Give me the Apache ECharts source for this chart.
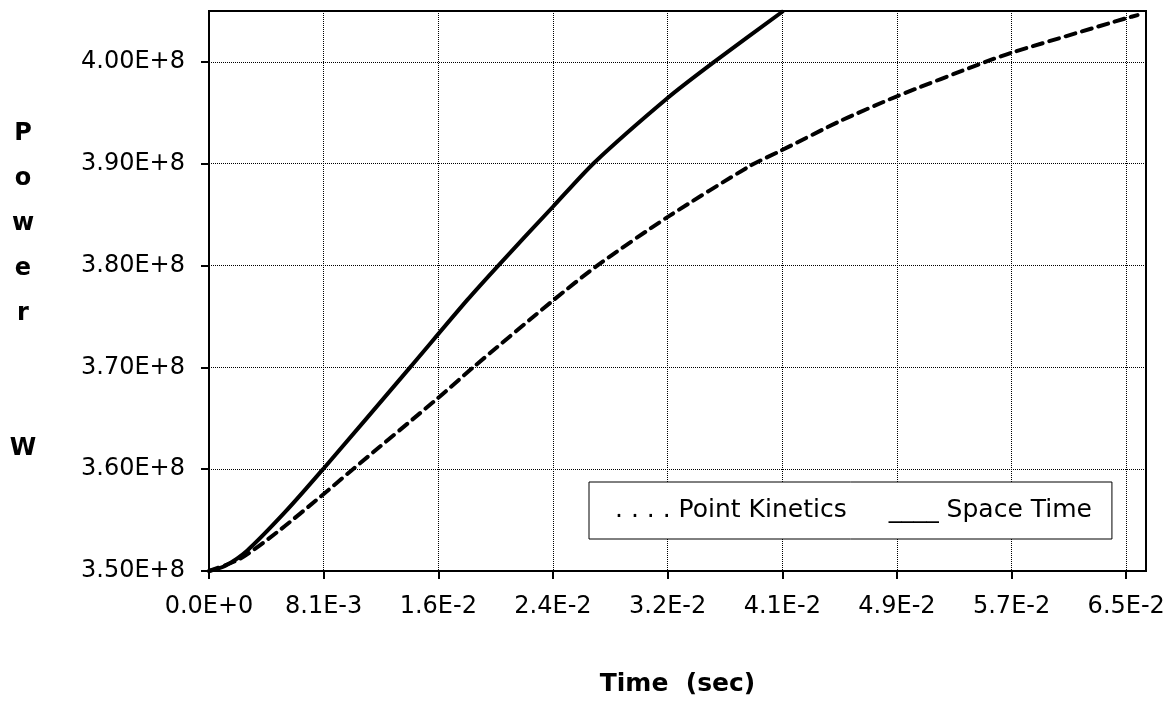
<!DOCTYPE html>
<html>
<head>
    <meta charset="utf-8">
    <title>Power vs Time</title>
    <script src="https://cdn.jsdelivr.net/npm/echarts@6/dist/echarts.min.js"></script>
    <style>
        html, body {
            margin: 0;
            padding: 0;
            background: #ffffff;
        }

        #chart {
            width: 1176px;
            height: 703px;
        }
    </style>
</head>
<body>
<div id="chart"></div>
<script>
    // tick labels
    var timeLabels = ['0.0E+0', '8.1E-3', '1.6E-2', '2.4E-2', '3.2E-2', '4.1E-2', '4.9E-2', '5.7E-2', '6.5E-2'];
    var powerLabels = ['3.50E+8', '3.60E+8', '3.70E+8', '3.80E+8', '3.90E+8', '4.00E+8'];

    // Point Kinetics (dashed)
    var pkTime = [0, 0.0022, 0.0050, 0.0079, 0.0102, 0.01624, 0.01872, 0.02432, 0.02751, 0.03254, 0.03836, 0.04055, 0.04474, 0.04871, 0.05502, 0.05686, 0.06502, 0.0658];
    var pkPower = [3.500e8, 3.512e8, 3.540e8, 3.573e8, 3.600e8, 3.670e8, 3.700e8, 3.765e8, 3.800e8, 3.848e8, 3.898e8, 3.913e8, 3.942e8, 3.966e8, 4.000e8, 4.009e8, 4.043e8, 4.046e8];

    // Space Time (solid)
    var stTime = [0, 0.00113, 0.0027, 0.0054, 0.00808, 0.01425, 0.01829, 0.0205, 0.02439, 0.0273, 0.03254, 0.0358, 0.0407];
    var stPower = [3.500e8, 3.505e8, 3.520e8, 3.558e8, 3.600e8, 3.700e8, 3.766e8, 3.800e8, 3.858e8, 3.901e8, 3.965e8, 4.000e8, 4.050e8];

    var legendMarks = {'Point Kinetics': '. . . .', 'Space Time': '____'};

    var timeStep = 0.008125;
    var powerMin = 3.5e8;
    var powerStep = 1e7;
    var font = 'DejaVu Sans, Arial, sans-serif';

    var timeTicks = timeLabels.map(function (l, i) { return i * timeStep; });
    var powerTicks = powerLabels.map(function (l, i) { return powerMin + i * powerStep; });

    function pairs(xs, ys) {
        var out = [];
        for (var i = 0; i < xs.length; i++) {
            out.push([xs[i], ys[i]]);
        }
        return out;
    }

    var chart = echarts.init(document.getElementById('chart'));

    var option = {
        animation: false,
        backgroundColor: '#ffffff',
        textStyle: {
            fontFamily: font,
            color: '#000'
        },
        grid: {
            left: 209,
            right: 30,
            top: 11,
            bottom: 132,
            show: true,
            borderColor: '#000',
            borderWidth: 2
        },
        legend: {
            left: 589,
            top: 482,
            orient: 'horizontal',
            backgroundColor: '#ffffff',
            borderColor: '#000',
            borderWidth: 1,
            borderRadius: 0,
            padding: [16, 20, 16, 20],
            itemWidth: 0,
            itemHeight: 0,
            itemGap: 36,
            data: ['Point Kinetics', 'Space Time'],
            formatter: function (name) {
                return legendMarks[name] + ' ' + name;
            },
            textStyle: {
                fontFamily: font,
                fontSize: 25,
                color: '#000'
            }
        },
        xAxis: {
            type: 'value',
            min: 0,
            max: 0.0664,
            interval: timeStep,
            name: 'Time  (sec)',
            nameLocation: 'middle',
            nameGap: 101,
            nameTextStyle: {
                fontFamily: font,
                fontSize: 25,
                fontWeight: 'bold',
                color: '#000'
            },
            axisLine: {lineStyle: {color: '#000', width: 2}},
            axisTick: {show: true, inside: false, length: 8, customValues: timeTicks, lineStyle: {color: '#000', width: 2}},
            axisLabel: {
                margin: 24,
                fontFamily: font,
                fontSize: 24,
                color: '#000',
                customValues: timeTicks,
                formatter: function (v) {
                    var i = Math.round(v / timeStep);
                    return timeLabels[i] || '';
                }
            },
            splitLine: {show: true, lineStyle: {color: '#000', type: 'dotted', width: 1}}
        },
        yAxis: {
            type: 'value',
            min: powerMin,
            max: 4.05e8,
            interval: powerStep,
            name: 'P\no\nw\ne\nr\n\n\nW',
            nameLocation: 'middle',
            nameRotate: 0,
            nameGap: 186,
            nameTextStyle: {
                fontFamily: font,
                fontSize: 24,
                fontWeight: 'bold',
                lineHeight: 45,
                align: 'center',
                verticalAlign: 'middle',
                color: '#000'
            },
            axisLine: {show: true, lineStyle: {color: '#000', width: 2}},
            axisTick: {show: true, inside: false, length: 8, customValues: powerTicks, lineStyle: {color: '#000', width: 2}},
            axisLabel: {
                margin: 24,
                fontFamily: font,
                fontSize: 24,
                color: '#000',
                customValues: powerTicks,
                formatter: function (v) {
                    var i = Math.round((v - powerMin) / powerStep);
                    return powerLabels[i] || '';
                }
            },
            splitLine: {show: true, lineStyle: {color: '#000', type: 'dotted', width: 1}}
        },
        series: [
            {
                name: 'Point Kinetics',
                type: 'line',
                data: pairs(pkTime, pkPower),
                smooth: 0.25,
                showSymbol: false,
                symbol: 'none',
                lineStyle: {color: '#000', width: 4, type: [10, 7], cap: 'round'},
                itemStyle: {color: '#000'}
            },
            {
                name: 'Space Time',
                type: 'line',
                data: pairs(stTime, stPower),
                smooth: 0.25,
                showSymbol: false,
                symbol: 'none',
                lineStyle: {color: '#000', width: 4, type: 'solid'},
                itemStyle: {color: '#000'}
            }
        ]
    };

    chart.setOption(option);
    window.onresize = function () {
        chart.resize();
    };
</script>
</body>
</html>
